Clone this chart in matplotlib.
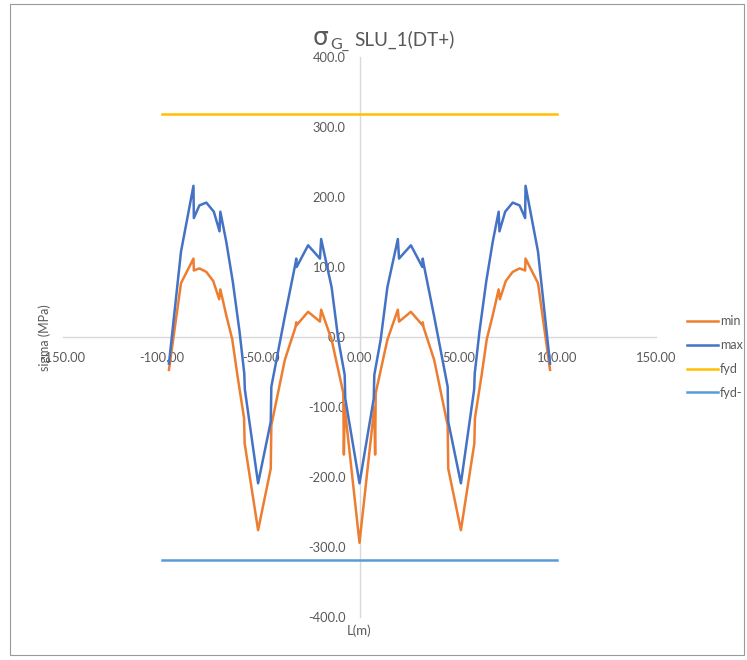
import matplotlib
matplotlib.use("Agg")
import matplotlib.pyplot as plt
from matplotlib.patches import Rectangle

plt.rcParams['font.family'] = ['Lato', 'DejaVu Sans']

# ---- data ----
L_max = [-96.4, -90.3, -84.0, -83.8, -81.0, -77.5, -73.7, -70.8, -70.4, -67.4, -64.1, -60.7,
         -58.3, -58.0, -51.3, -44.9, -44.6, -37.8, -32.4, -32.0, -31.8, -26.0, -20.0, -19.4,
         -14.1, -10.7, -7.5, -7.2, 0.0,
         7.2, 7.5, 10.7, 14.1, 19.4, 20.0, 26.0, 31.8, 32.0, 32.4, 37.8, 44.6, 44.9, 51.3,
         58.0, 58.3, 60.7, 64.1, 67.4, 70.4, 70.8, 73.7, 77.5, 81.0, 83.8, 84.0, 90.3, 96.4]
sig_max = [-38, 122, 216, 170, 188, 192, 179, 151, 179, 136, 79, 8,
           -52, -75, -209, -121, -71, 29, 105, 112, 100, 131, 112, 140,
           71, -4, -54, -88, -209,
           -88, -54, -4, 71, 140, 112, 131, 100, 112, 105, 29, -71, -121, -209,
           -75, -52, 8, 79, 136, 179, 151, 179, 192, 188, 170, 216, 122, -38]

L_min = [-96.4, -90.3, -84.0, -83.8, -81.0, -77.5, -74.0, -71.0, -70.4, -67.4, -64.4, -61.8,
         -58.4, -58.1, -51.3, -44.9, -44.6, -37.8, -32.4, -32.0, -31.8, -26.0, -20.0, -19.4,
         -14.1, -8.2, -7.9, -7.5, 0.0,
         7.5, 7.9, 8.2, 14.1, 19.4, 20.0, 26.0, 31.8, 32.0, 32.4, 37.8, 44.6, 44.9, 51.3,
         58.1, 58.4, 61.8, 64.4, 67.4, 70.4, 71.0, 74.0, 77.5, 81.0, 83.8, 84.0, 90.3, 96.4]
sig_min = [-47, 77, 112, 95, 98, 93, 80, 54, 68, 31, -3, -54,
           -116, -152, -276, -188, -126, -33, 14, 21, 17, 36, 22, 39,
           -4, -80, -168, -100, -294,
           -100, -168, -80, -4, 39, 22, 36, 17, 21, 14, -33, -126, -188, -276,
           -152, -116, -54, -3, 31, 68, 54, 80, 93, 98, 95, 112, 77, -47]

L_fyd = [-100, 100]
fyd = [319, 319]
fyd_neg = [-319, -319]

x_ticks = [-150, -100, -50, 0, 50, 100, 150]
y_ticks = [-400, -300, -200, -100, 0, 100, 200, 300, 400]

# ---- figure ----
W, H = 747, 660
fig = plt.figure(figsize=(W / 100, H / 100), dpi=100)
fig.patch.set_facecolor('white')
fig.patches.append(Rectangle((10 / W, 1 - 655 / H), 734 / W, 651 / H,
                             transform=fig.transFigure, fill=False,
                             edgecolor='#9a9a9a', linewidth=0.8))

ax = fig.add_axes([63 / W, 1 - 617 / H, 593 / W, 560 / H])
ax.set_xlim(-150, 150)
ax.set_ylim(-400, 400)

c_min, c_max, c_fyd, c_fydn = '#ED7D31', '#4472C4', '#FFC000', '#5B9BD5'
lw = 1.8
l1, = ax.plot(L_min, sig_min, color=c_min, lw=lw, solid_joinstyle='round')
l2, = ax.plot(L_max, sig_max, color=c_max, lw=lw, solid_joinstyle='round')
l3, = ax.plot(L_fyd, fyd, color=c_fyd, lw=lw)
l4, = ax.plot(L_fyd, fyd_neg, color=c_fydn, lw=lw)

for s in ['top', 'right']:
    ax.spines[s].set_visible(False)
ax.spines['left'].set_position(('data', 0))
ax.spines['bottom'].set_position(('data', 0))
for s in ['left', 'bottom']:
    ax.spines[s].set_color('#d9d9d9')
    ax.spines[s].set_linewidth(1.0)
    ax.spines[s].set_zorder(0)

ax.set_xticks(x_ticks)
ax.set_xticklabels([f"{v:.2f}" for v in x_ticks])
ax.set_yticks(y_ticks)
ax.set_yticklabels([f"{v:.1f}" for v in y_ticks])
ax.tick_params(axis='both', length=0, labelsize=9.3, labelcolor='#595959')
ax.tick_params(axis='y', pad=10)
ax.tick_params(axis='x', pad=11)
ax.set_facecolor('none')

# axis titles
fig.text(45 / W, 1 - 338 / H, 'sigma (MPa)', rotation=90, ha='center', va='center',
         fontsize=9, color='#595959')
fig.text(359 / W, 1 - 631 / H, 'L(m)', ha='center', va='center',
         fontsize=9.5, color='#595959')

# chart title
fig.text(313 / W, 1 - 45 / H, 'σ', ha='left', va='baseline', fontsize=18, color='#595959',
         family=['DejaVu Sans'])
fig.text(330 / W, 1 - 49 / H, 'G_', ha='left', va='baseline', fontsize=11.5, color='#595959')
fig.text(354 / W, 1 - 46 / H, 'SLU_1(DT+)', ha='left', va='baseline', fontsize=13.6,
         color='#595959')

# legend
ax.legend([l1, l2, l3, l4], ['min', 'max', 'fyd', 'fyd-'],
          loc='center left', bbox_to_anchor=(687 / W, 1 - 357 / H),
          bbox_transform=fig.transFigure, frameon=False, fontsize=9,
          handlelength=2.5, handletextpad=0.15, labelspacing=0.95,
          borderpad=0, borderaxespad=0, labelcolor='#595959')

fig.savefig('out.png', dpi=100)
